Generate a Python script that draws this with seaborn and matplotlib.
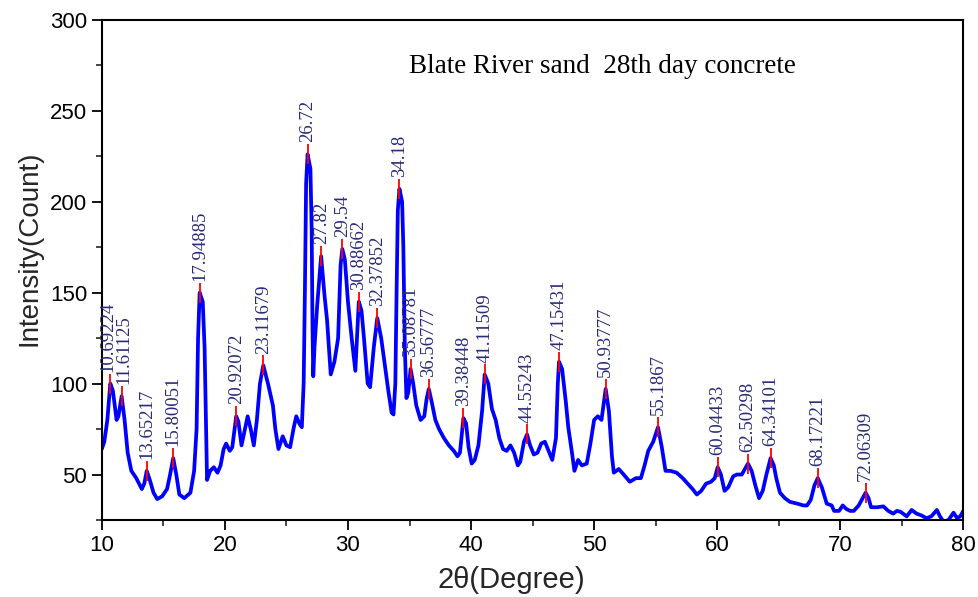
import numpy as np
import pandas as pd
import matplotlib
matplotlib.use("Agg")
import matplotlib.pyplot as plt
import seaborn as sns
from matplotlib.ticker import MultipleLocator

# XRD pattern
two_theta = [10.0, 10.2, 10.45, 10.69, 10.9, 11.2, 11.35, 11.61, 11.85, 12.1, 12.4, 12.8, 13.25, 13.45,
             13.65, 13.9, 14.2, 14.5, 14.9, 15.3, 15.55, 15.8, 16.05, 16.3, 16.7, 17.2, 17.5, 17.7,
             17.82, 17.95, 18.2, 18.35, 18.45, 18.55, 18.8, 19.1, 19.4, 19.65, 19.9, 20.1, 20.4, 20.6,
             20.92, 21.1, 21.35, 21.6, 21.85, 22.1, 22.35, 22.6, 22.85, 23.12, 23.5, 23.9, 24.1, 24.35,
             24.7, 25.0, 25.3, 25.6, 25.8, 26.05, 26.25, 26.4, 26.5, 26.6, 26.72, 26.95, 27.05, 27.12,
             27.18, 27.28, 27.5, 27.82, 28.1, 28.3, 28.6, 28.9, 29.2, 29.4, 29.54, 29.75, 30.0, 30.3,
             30.6, 30.88, 31.1, 31.3, 31.6, 31.8, 32.1, 32.38, 32.7, 33.0, 33.3, 33.55, 33.7, 33.85,
             33.95, 34.05, 34.18, 34.4, 34.5, 34.62, 34.75, 34.9, 35.09, 35.3, 35.55, 35.9, 36.2, 36.4,
             36.57, 36.8, 37.1, 37.4, 37.8, 38.2, 38.6, 38.9, 39.1, 39.38, 39.6, 39.8, 40.05, 40.3,
             40.6, 40.9, 41.11, 41.4, 41.7, 42.0, 42.3, 42.6, 42.9, 43.2, 43.5, 43.8, 44.0, 44.3,
             44.55, 44.8, 45.1, 45.4, 45.7, 46.0, 46.3, 46.6, 46.9, 47.05, 47.15, 47.4, 47.7, 47.9,
             48.2, 48.4, 48.7, 49.0, 49.4, 49.7, 50.0, 50.3, 50.6, 50.94, 51.2, 51.45, 51.6, 52.0,
             52.4, 52.9, 53.4, 53.8, 54.1, 54.4, 54.8, 55.19, 55.5, 55.8, 56.2, 56.7, 57.2, 57.6,
             58.0, 58.35, 58.7, 59.1, 59.5, 59.8, 60.04, 60.3, 60.6, 60.9, 61.3, 61.6, 62.0, 62.5,
             62.8, 63.1, 63.4, 63.7, 64.0, 64.34, 64.6, 64.8, 65.1, 65.5, 65.9, 66.5, 67.0, 67.3,
             67.6, 67.9, 68.17, 68.5, 68.9, 69.3, 69.5, 69.9, 70.2, 70.5, 70.8, 71.1, 71.5, 72.06,
             72.3, 72.5, 73.0, 73.5, 73.9, 74.3, 74.6, 74.9, 75.4, 75.8, 76.2, 76.6, 77.0, 77.4,
             77.85, 78.1, 78.4, 78.8, 79.2, 79.5, 79.75, 80.0]
intensity = [64, 68, 80, 100, 96, 80, 82, 93, 80, 62, 52, 48, 42, 45,
             52, 47, 40, 36.5, 38, 42, 50, 59, 50, 39, 37, 40, 52, 75,
             125, 150, 145, 120, 85, 47, 52, 54, 51, 55, 64, 67, 63, 65,
             82, 79, 66, 74, 82, 75, 66, 80, 100, 110, 100, 88, 75, 64,
             71, 66, 65, 76, 82, 78, 76, 100, 150, 210, 226, 218, 185, 130,
             104, 120, 143, 170, 148, 135, 105, 112, 125, 165, 174, 168, 145, 125,
             107, 145, 140, 125, 100, 98, 120, 136, 125, 110, 95, 84, 83, 100,
             150, 195, 207, 200, 175, 120, 92, 95, 108, 100, 88, 80, 82, 92,
             97, 90, 80, 75, 70, 66, 63, 60, 62, 81, 78, 65, 56, 58,
             66, 85, 105, 100, 86, 80, 70, 64, 63, 66, 62, 55, 57, 68,
             72, 66, 61, 62, 67, 68, 63, 58, 70, 100, 112, 108, 90, 76,
             62, 52, 58, 55, 56, 67, 80, 82, 80, 97, 85, 60, 51, 53,
             50, 46, 48, 48, 55, 63, 68, 76, 65, 52, 52, 51, 48, 45,
             42, 39, 41, 45, 46, 48, 54, 50, 41, 43, 49, 50, 50, 56,
             52, 44, 37, 41, 50, 59, 55, 48, 40, 37, 35, 34, 33, 33,
             36, 44, 48, 43, 34, 33, 30, 30, 33, 31, 30, 30, 33, 40,
             37, 32, 32, 32.5, 30, 28.5, 30, 29.5, 27, 30.5, 28.5, 27.5, 26, 27,
             30.5, 27, 24, 25, 29, 26, 27, 30]

# labelled peaks
peak_labels = ["10.69224", "11.61125", "13.65217", "15.80051", "17.94885", "20.92072", "23.11679",
               "26.72", "27.82", "29.54", "30.88662", "32.37852", "34.18", "35.08781", "36.56777",
               "39.38448", "41.11509", "44.55243", "47.15431", "50.93777", "55.1867", "60.04433",
               "62.50298", "64.34101", "68.17221", "72.06309"]
peak_y = [100, 93, 52, 59, 150, 82, 110, 226, 170, 174, 145, 136, 207, 108, 97,
          81, 105, 72, 112, 97, 76, 54, 56, 59, 48, 40]

df = pd.DataFrame({"2theta": two_theta, "I": intensity})

sns.set_style("ticks")
plt.rcParams["font.family"] = ["Liberation Sans", "DejaVu Sans"]

fig = plt.figure(figsize=(9.79, 5.97), dpi=100)
ax = fig.add_axes([0.104, 0.129, 0.880, 0.838])

sns.lineplot(data=df, x="2theta", y="I", color="#0000ff", linewidth=2.7, ax=ax, sort=False)

peak_x = [float(s) for s in peak_labels]
ax.vlines(peak_x, [y - 5.5 for y in peak_y], [y + 5.5 for y in peak_y], colors="#ff0000", linewidth=1.3, zorder=3)
for i, (px, py, s) in enumerate(zip(peak_x, peak_y, peak_labels)):
    dx = -0.22 if i == 0 else (0.18 if i == 1 else 0)
    ax.text(px + dx, py + 6.5, s, rotation=90, ha="center", va="bottom", fontsize=13.5,
            family="Liberation Serif", color="#2a2a78")

ax.text(0.581, 0.906, "Blate River sand  28th day concrete", transform=ax.transAxes,
        ha="center", va="center", fontsize=19.5, family="Liberation Serif", color="black")

ax.set_xlim(10, 80)
ax.set_ylim(25, 300)
ax.xaxis.set_major_locator(MultipleLocator(10))
ax.xaxis.set_minor_locator(MultipleLocator(5))
ax.yaxis.set_major_locator(MultipleLocator(50))
ax.yaxis.set_minor_locator(MultipleLocator(25))
ax.tick_params(which="major", length=7, width=1.3, labelsize=16, colors="black")
ax.tick_params(which="minor", length=4, width=1.2)
for sp in ax.spines.values():
    sp.set_linewidth(1.5)
    sp.set_color("black")

ax.set_xlabel("2θ(Degree)", fontsize=21)
ax.set_ylabel("Intensity(Count)", fontsize=20)
ax.xaxis.set_label_coords(0.475, -0.12)
ax.yaxis.set_label_coords(-0.084, 0.544)
ax.xaxis.label.set_va("center")
ax.yaxis.label.set_va("center")

fig.savefig("out.png", dpi=100)
